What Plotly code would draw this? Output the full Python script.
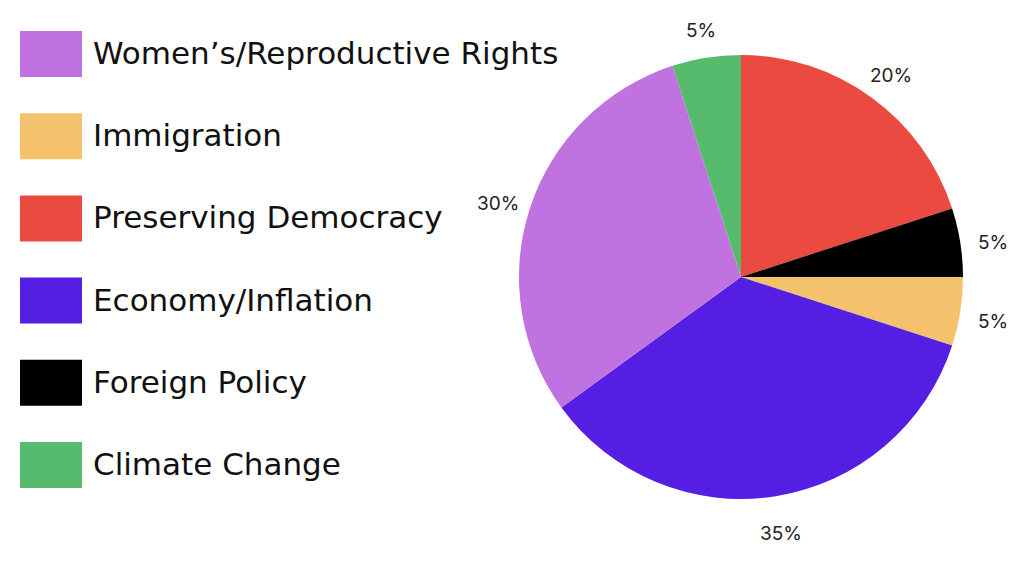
import math
import plotly.graph_objects as go

# Slice data (clockwise from 12 o'clock)
categories = ["Preserving Democracy", "Foreign Policy", "Immigration",
              "Economy/Inflation", "Women’s/Reproductive Rights", "Climate Change"]
values = [20, 5, 5, 35, 30, 5]
colors = ["#EA4A3F", "#000000", "#F4C16C", "#541EE3", "#BF72E0", "#57BB6D"]

# Legend order as shown in the reference
legend_order = ["Women’s/Reproductive Rights", "Immigration", "Preserving Democracy",
                "Economy/Inflation", "Foreign Policy", "Climate Change"]

W, H = 1024, 588
cx, cy, r = 741, 277, 222
label_r = 255
label_dy = 5

fig = go.Figure()
fig.add_trace(go.Pie(
    labels=categories,
    values=values,
    sort=False,
    direction="clockwise",
    rotation=0,
    marker=dict(colors=colors, line=dict(width=0)),
    textinfo="none",
    showlegend=False,
    hoverinfo="label+percent",
    domain=dict(x=[(cx - r) / W, (cx + r) / W], y=[1 - (cy + r) / H, 1 - (cy - r) / H]),
))

annotations = []
# percentage labels placed outside each slice at its mid-angle
total = sum(values)
cum = 0
for v in values:
    mid = (cum + v / 2) / total * 2 * math.pi
    cum += v
    lx = cx + label_r * math.sin(mid)
    ly = cy - label_r * math.cos(mid) + label_dy
    annotations.append(dict(xref="paper", yref="paper", x=lx / W, y=1 - ly / H,
                            xanchor="center", yanchor="middle", showarrow=False,
                            text=f"{round(v / total * 100)}%",
                            font=dict(family="Inter", size=19, color="#222222")))

color_map = dict(zip(categories, colors))
rect_x0, rect_x1 = 20, 82
row0, pitch, rh = 54, 82.2, 46
shapes = []
for i, name in enumerate(legend_order):
    yc = row0 + i * pitch
    shapes.append(dict(type="rect", xref="paper", yref="paper",
                       x0=rect_x0 / W, x1=rect_x1 / W,
                       y0=1 - (yc + rh / 2) / H, y1=1 - (yc - rh / 2) / H,
                       fillcolor=color_map[name], line=dict(width=0)))
    annotations.append(dict(xref="paper", yref="paper", x=91 / W, y=1 - (yc - 1) / H,
                            xanchor="left", yanchor="middle", showarrow=False,
                            text=name, font=dict(family="DejaVu Sans", size=31, color="#111111")))

fig.update_layout(
    width=W, height=H,
    margin=dict(l=0, r=0, t=0, b=0),
    paper_bgcolor="white", plot_bgcolor="white",
    shapes=shapes, annotations=annotations,
)

fig.write_html("out.html", config={"displayModeBar": False},
               post_script="document.body.style.margin='0';")
